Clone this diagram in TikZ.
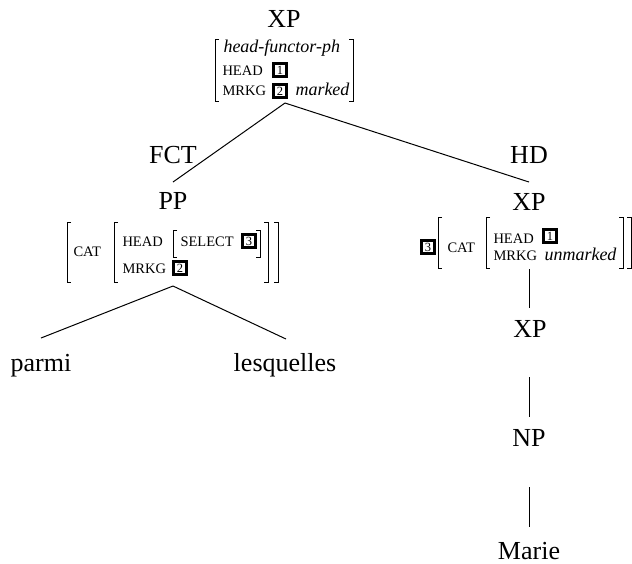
\documentclass[tikz,border=0pt]{standalone}
\usepackage{fontspec}
\setmainfont{Liberation Serif}
\begin{document}
\begin{tikzpicture}[x=0.4pt,y=-0.4pt,
  lbl/.style={font=\fontsize{10.4}{12}\selectfont,inner sep=0pt,anchor=base},
  feat/.style={font=\fontsize{5.8}{7}\selectfont,inner sep=0pt,anchor=base west},
  val/.style={font=\fontsize{7.2}{8.6}\selectfont\itshape,inner sep=0pt,anchor=base west},
  tagbox/.style={draw,line width=1.1pt,font=\fontsize{5}{5}\selectfont,inner sep=0pt,minimum width=5.2pt,minimum height=5.2pt},
  brk/.style={line width=0.4pt},
  edge/.style={line width=0.4pt}]
\useasboundingbox (0,0) rectangle (632,563);

% ---- root XP
\node[lbl] (xp0) at (284,27) {XP};
\draw[brk] (219,39) -- (215,39) -- (215,101) -- (219,101);
\draw[brk] (349,39) -- (353,39) -- (353,101) -- (349,101);
\node[val] (hfp) at (223,52) {head-functor-ph};
\node[feat] (h0) at (222,75) {HEAD};
\node[tagbox] (t01) at (280,70) {1};
\node[feat] (m0) at (222,95) {MRKG};
\node[tagbox] (t02) at (280,91) {2};
\node[val] (mk0) at (295,95) {marked};
\coordinate (r0) at (285,103);

% ---- labels on branches
\node[lbl] (fct) at (173,163) {FCT};
\node[lbl] (hd) at (529,163) {HD};
\coordinate (ppTop) at (173,182);
\coordinate (xpTop) at (529,182);
\draw[edge] (r0) -- (ppTop);
\draw[edge] (r0) -- (xpTop);

% ---- PP
\node[lbl] (pp) at (173,209) {PP};
\draw[brk] (71,222) -- (67,222) -- (67,282) -- (71,282);
\draw[brk] (274,222) -- (278,222) -- (278,282) -- (274,282);
\node[feat] (cat1) at (73,256) {CAT};
\draw[brk] (118,222) -- (114,222) -- (114,282) -- (118,282);
\draw[brk] (264,222) -- (268,222) -- (268,282) -- (264,282);
\node[feat] (h1) at (122,246) {HEAD};
\draw[brk] (177,230) -- (173,230) -- (173,257) -- (177,257);
\draw[brk] (256,230) -- (260,230) -- (260,257) -- (256,257);
\node[feat] (sel) at (180,246) {SELECT};
\node[tagbox] (t13) at (249,241) {3};
\node[feat] (m1) at (122,273) {MRKG};
\node[tagbox] (t12) at (180,268) {2};
\coordinate (r1) at (173,286);

\node[lbl] (parmi) at (41,371) {parmi};
\node[lbl] (lesq) at (285,371) {lesquelles};
\coordinate (parmiTop) at (41,338);
\coordinate (lesqTop) at (286,339);
\draw[edge] (r1) -- (parmiTop);
\draw[edge] (r1) -- (lesqTop);

% ---- right XP
\node[lbl] (xp1) at (529,210) {XP};
\node[tagbox] (t23) at (428,247) {3};
\draw[brk] (442,217) -- (438,217) -- (438,268) -- (442,268);
\draw[brk] (627,217) -- (631,217) -- (631,268) -- (627,268);
\node[feat] (cat2) at (447,252) {CAT};
\draw[brk] (490,217) -- (486,217) -- (486,268) -- (490,268);
\draw[brk] (619,217) -- (623,217) -- (623,268) -- (619,268);
\node[feat] (h2) at (493,243) {HEAD};
\node[tagbox] (t21) at (550,236) {1};
\node[feat] (m2) at (493,260) {MRKG};
\node[val] (um) at (544,260) {unmarked};

\coordinate (a1) at (529,269);
\coordinate (a2) at (529,308);
\draw[edge] (a1) -- (a2);
\node[lbl] (xp2) at (530,337) {XP};
\coordinate (b1) at (529,377);
\coordinate (b2) at (529,417);
\draw[edge] (b1) -- (b2);
\node[lbl] (np) at (529,446) {NP};
\coordinate (c1) at (529,487);
\coordinate (c2) at (529,527);
\draw[edge] (c1) -- (c2);
\node[lbl] (marie) at (529,559) {Marie};
\end{tikzpicture}
\end{document}
